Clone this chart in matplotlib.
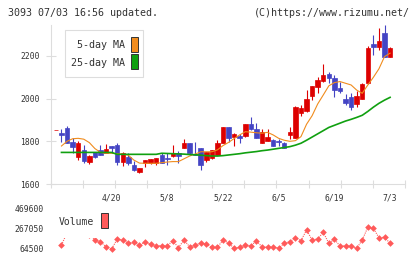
import numpy as np
import matplotlib
matplotlib.use("Agg")
import matplotlib.pyplot as plt
from matplotlib.patches import Rectangle

# ------------------------------------------------------
# Data
# ------------------------------------------------------

date_pos = [10, 20, 30, 40, 50, 60]
date_labels = ["4/20", "5/8", "5/22", "6/5", "6/19", "7/3"]

opens = [1853, 1840, 1861, 1798, 1725, 1759, 1705, 1748, 1759, 1744,
         1778, 1783, 1705, 1728, 1689, 1658, 1697, 1700, 1697, 1736,
         1722, 1733, 1744, 1767, 1791, 1741, 1770, 1712, 1720, 1736,
         1791, 1866, 1822, 1826, 1826, 1881, 1858, 1794, 1803, 1806,
         1803, 1791, 1830, 1814, 1934, 1944, 2012, 2056, 2081, 2116,
         2095, 2048, 1998, 2006, 1973, 1998, 2075, 2255, 2244, 2306,
         2194]
highs = [1853, 1858, 1872, 1814, 1800, 1783, 1735, 1752, 1783, 1786,
         1778, 1792, 1750, 1744, 1709, 1673, 1712, 1718, 1722, 1745,
         1745, 1781, 1756, 1811, 1791, 1798, 1770, 1752, 1759, 1806,
         1866, 1866, 1838, 1834, 1881, 1913, 1884, 1858, 1858, 1810,
         1809, 1795, 1869, 1966, 1970, 2041, 2059, 2103, 2162, 2127,
         2111, 2080, 2022, 2025, 2037, 2075, 2247, 2298, 2333, 2345,
         2244]
lows = [1853, 1798, 1790, 1744, 1713, 1697, 1692, 1722, 1736, 1744,
        1744, 1691, 1686, 1689, 1663, 1650, 1680, 1695, 1690, 1700,
        1690, 1725, 1700, 1767, 1736, 1736, 1667, 1705, 1715, 1736,
        1791, 1798, 1780, 1791, 1822, 1853, 1814, 1791, 1803, 1780,
        1780, 1767, 1809, 1814, 1919, 1939, 1994, 2025, 2080, 2072,
        2009, 2025, 1970, 1947, 1959, 1997, 2069, 2205, 2228, 2194,
        2194]
closes = [1853, 1829, 1791, 1772, 1791, 1709, 1731, 1728, 1736, 1764,
          1770, 1705, 1747, 1700, 1666, 1673, 1712, 1715, 1720, 1700,
          1718, 1744, 1733, 1791, 1744, 1736, 1689, 1752, 1759, 1791,
          1866, 1817, 1833, 1814, 1881, 1858, 1817, 1845, 1822, 1780,
          1795, 1767, 1845, 1962, 1955, 1997, 2059, 2087, 2111, 2095,
          2041, 2036, 1978, 1959, 2012, 2067, 2236, 2244, 2270, 2197,
          2236]

ma5 = [np.nan, 1778, 1800, 1812, 1814, 1810, 1794, 1766, 1748, 1744,
       1744, 1742, 1740, 1735, 1712, 1698, 1697, 1697, 1697, 1700,
       1703, 1705, 1705, 1718, 1731, 1740, 1751, 1751, 1751, 1760,
       1780, 1795, 1813, 1830, 1845, 1843, 1840, 1838, 1842, 1830,
       1814, 1805, 1800, 1803, 1822, 1880, 1920, 1975, 2017, 2060,
       2075, 2080, 2072, 2064, 2040, 2025, 2064, 2100, 2140, 2197,
       2213]
ma25 = [np.nan, 1748, 1748, 1748, 1748, 1748, 1748, 1748, 1748, 1748,
        1748, 1739, 1739, 1739, 1739, 1739, 1739, 1739, 1739, 1744,
        1743, 1742, 1741, 1740, 1738, 1737, 1735, 1733, 1731, 1731,
        1733, 1736, 1739, 1742, 1746, 1749, 1752, 1756, 1759, 1763,
        1767, 1771, 1775, 1782, 1791, 1805, 1820, 1835, 1850, 1865,
        1875, 1885, 1895, 1903, 1912, 1922, 1940, 1960, 1978, 1993,
        2006]

volumes = [np.nan, 104300, 226700, 469600, 330000, 260000, 203800, 154100, 137200, 87400,
           64500, 161000, 154100, 121200, 131200, 104300, 131200, 114300, 97300, 97300,
           97300, 147100, 77400, 154100, 87400, 104300, 121200, 111300, 81400, 81400,
           154100, 124200, 71500, 81400, 104300, 97300, 144100, 87400, 81400, 87400,
           71500, 121200, 137200, 177000, 147100, 253600, 154100, 164000, 230700, 121200,
           161000, 94400, 94400, 94400, 71500, 154100, 280500, 270500, 177000, 181000,
           121200]

vol_ticks = [64500, 267050, 469600]

# ------------------------------------------------------
# Style
# ------------------------------------------------------

W, H = 420, 259
RED = "#dd0000"
BLUE = "#4444c4"
ORANGE = "#f08c1e"
GREEN = "#10a010"
VOLC = "#ff5a5a"
GRID = "#dddddd"
TXT = "#333333"
MONO = "DejaVu Sans Mono"

plt.rcParams["font.family"] = MONO

fig = plt.figure(figsize=(W / 100, H / 100), dpi=100)


def fx(x):
    return x / W


def fy(y):
    return 1 - y / H


x_left, x_right = 50.7, 405.3
day0_px, step_px = 55.9, 5.57
xlim = ((x_left - day0_px) / step_px, (x_right - day0_px) / step_px)

# ------------------------------------------------------
# Price chart
# ------------------------------------------------------

ax = fig.add_axes([fx(x_left), fy(184), fx(x_right) - fx(x_left), (184 - 25) / H])

days = np.arange(len(opens))
o = np.array(opens)
c = np.array(closes)
up = c >= o
colors = np.where(up, RED, BLUE)

ax.vlines(days, lows, highs, colors=colors, linewidth=0.8, zorder=2)
ax.bar(days, np.abs(c - o), bottom=np.minimum(o, c), width=0.8,
       color=colors, edgecolor=colors, linewidth=0.5, zorder=3)

ax.plot(days, ma5, color=ORANGE, linewidth=0.8, zorder=4)
ax.plot(days, ma25, color=GREEN, linewidth=1.2, zorder=4)

ax.set_xlim(*xlim)
ax.set_ylim(1600, 2345)

for side in ["top", "right"]:
    ax.spines[side].set_visible(False)
for side in ["left", "bottom"]:
    ax.spines[side].set_color(GRID)
    ax.spines[side].set_linewidth(0.8)

ax.set_yticks([1600, 1800, 2000, 2200])
ax.tick_params(axis="y", direction="inout", length=6.5, width=0.8,
               color=GRID, pad=4.75, labelsize=5.8, labelcolor=TXT)

ax.set_xticks(np.linspace(xlim[0], xlim[1], 12))
ax.set_xticklabels([])
ax.set_xticks(date_pos, date_labels, minor=True)
ax.tick_params(axis="x", which="major", direction="inout", length=5.5,
               width=0.8, color=GRID)
ax.tick_params(axis="x", which="minor", length=0, pad=7.0,
               labelsize=5.8, labelcolor=TXT)

# ------------------------------------------------------
# Volume chart
# ------------------------------------------------------

vax = fig.add_axes([fx(x_left), fy(249), fx(x_right) - fx(x_left), (249 - 208.3) / H])
vax.plot(days, volumes, color=VOLC, linewidth=0.8, linestyle=(0, (1, 1)),
         marker="D", markersize=3.4, markeredgewidth=0, clip_on=False)
vax.set_xlim(*xlim)
vax.set_ylim(vol_ticks[0], vol_ticks[-1])
for s in vax.spines.values():
    s.set_visible(False)
vax.set_xticks([])
vax.set_yticks(vol_ticks)
vax.tick_params(axis="y", length=0, pad=4.8, labelsize=5.8, labelcolor=TXT)

# ------------------------------------------------------
# Header and legends
# ------------------------------------------------------

fig.text(fx(8), fy(12.5), "3093 07/03 16:56 updated.", fontsize=7.2,
         color=TXT, va="center", ha="left")
fig.text(fx(410), fy(12.5), "(C)https://www.rizumu.net/", fontsize=7.2,
         color=TXT, va="center", ha="right")

fig.add_artist(Rectangle((fx(65), fy(77.3)), fx(78.3), (77.3 - 30) / H,
                         transform=fig.transFigure, facecolor="white",
                         edgecolor=GRID, linewidth=0.8, zorder=5))
fig.text(fx(125), fy(45), "5-day MA", fontsize=7.2, color=TXT,
         ha="right", va="center", zorder=6)
fig.text(fx(125), fy(63.3), "25-day MA", fontsize=7.2, color=TXT,
         ha="right", va="center", zorder=6)
fig.add_artist(Rectangle((fx(131), fy(52.3)), fx(6.7), 15.6 / H,
                         transform=fig.transFigure, facecolor=ORANGE,
                         edgecolor=TXT, linewidth=0.7, zorder=6))
fig.add_artist(Rectangle((fx(131), fy(69.3)), fx(6.7), 15.3 / H,
                         transform=fig.transFigure, facecolor=GREEN,
                         edgecolor=TXT, linewidth=0.7, zorder=6))

fig.add_artist(Rectangle((fx(55), fy(237.5)), fx(56), (237.5 - 203) / H,
                         transform=fig.transFigure, facecolor="white",
                         edgecolor="none", zorder=5))
fig.text(fx(58.3), fy(222.3), "Volume", fontsize=7.0, color=TXT,
         ha="left", va="center", zorder=6)
fig.add_artist(Rectangle((fx(101), fy(228.3)), fx(6.7), 15 / H,
                         transform=fig.transFigure, facecolor=VOLC,
                         edgecolor=TXT, linewidth=0.7, zorder=6))

fig.savefig("out.png", dpi=100)
